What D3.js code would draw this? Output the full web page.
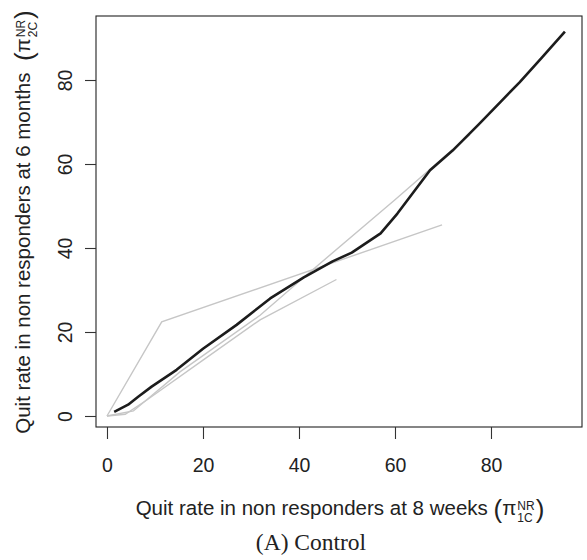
<!DOCTYPE html>
<html>
<head>
<meta charset="utf-8">
<script src="https://cdn.jsdelivr.net/npm/d3@7"></script>
<style>
  body { margin: 0; background: #fff; }
  text { font-family: "Liberation Sans", Arial, sans-serif; fill: #222; }
</style>
</head>
<body>
<div id="chart"></div>
<script>
// tick labels
var xTicks = [0, 20, 40, 60, 80];
var yTicks = [0, 20, 40, 60, 80];

// black curve (overall)
var blackX = [1.5, 4.4, 6.5, 9.3, 14.5, 20, 27, 34, 41, 47, 51, 57, 60.5, 67.3, 72, 77.5, 82, 86, 90.5, 95.4];
var blackY = [1.0, 2.7, 4.6, 7.0, 11.0, 16.0, 21.7, 28.0, 33.0, 36.8, 38.9, 43.5, 48.2, 58.5, 63.2, 69.5, 74.8, 79.5, 85.2, 91.5];

// grey curves
var gray1X = [0, 11.4, 69.8];
var gray1Y = [0, 22.4, 45.5];
var gray2X = [0, 3.8, 8.3, 20, 31.9, 47.8];
var gray2Y = [0, 0.4, 3.8, 13.3, 22.9, 32.5];
var gray3X = [0, 5.5, 15.2, 31.9, 42, 60, 75.6];
var gray3Y = [0, 1.2, 10.5, 24, 34, 51.5, 67];

var width = 587, height = 560;

var svg = d3.select("#chart").append("svg")
    .attr("width", width)
    .attr("height", height);

// set the ranges (R style 4% padding around data)
var x = d3.scaleLinear().domain([-2.29, 98.96]).range([96, 582]);
var y = d3.scaleLinear().domain([-2.62, 95.24]).range([427, 16]);

var line = d3.line()
    .x(function(d) { return x(d[0]); })
    .y(function(d) { return y(d[1]); });

var grays = [[gray1X, gray1Y], [gray2X, gray2Y], [gray3X, gray3Y]];

svg.append("g")
    .selectAll("path")
    .data(grays)
    .enter().append("path")
    .attr("d", function(d) { return line(d3.zip(d[0], d[1])); })
    .attr("fill", "none")
    .attr("stroke", "#c6c6c6")
    .attr("stroke-width", 1.4);

svg.append("path")
    .attr("d", line(d3.zip(blackX, blackY)))
    .attr("fill", "none")
    .attr("stroke", "#1c1c1c")
    .attr("stroke-width", 2.6)
    .attr("stroke-linejoin", "round");

// box
svg.append("rect")
    .attr("x", x.range()[0])
    .attr("y", y.range()[1])
    .attr("width", x.range()[1] - x.range()[0])
    .attr("height", y.range()[0] - y.range()[1])
    .attr("fill", "none")
    .attr("stroke", "#222")
    .attr("stroke-width", 1.1);

// axes
var xAxis = d3.axisBottom(x).tickValues(xTicks).tickSize(12);
var yAxis = d3.axisLeft(y).tickValues(yTicks).tickSize(11);

var gx = svg.append("g")
    .attr("transform", "translate(0," + y.range()[0] + ")")
    .call(xAxis);
gx.select(".domain").remove();
gx.selectAll(".tick line").attr("stroke", "#333").attr("stroke-width", 1.1);
gx.selectAll(".tick text")
    .attr("y", 45).attr("dy", null)
    .style("font-size", "19.5px")
    .style("font-family", "Liberation Sans, Arial, sans-serif")
    .attr("fill", "#222");

var gy = svg.append("g")
    .attr("transform", "translate(" + x.range()[0] + ",0)")
    .call(yAxis);
gy.select(".domain").remove();
gy.selectAll(".tick line").attr("stroke", "#333").attr("stroke-width", 1.1);
gy.selectAll(".tick text")
    .attr("x", 0).attr("y", -24).attr("dy", null)
    .attr("transform", "rotate(-90)")
    .attr("text-anchor", "middle")
    .style("font-size", "19.5px")
    .style("font-family", "Liberation Sans, Arial, sans-serif")
    .attr("fill", "#222");

// axis titles with pi^NR_sub, parens grown round the stack
function mathLabel(tx, ty, rot, pre, gap, sub) {
    var g = svg.append("g")
        .attr("transform", "translate(" + tx + "," + ty + ") rotate(" + rot + ")");
    var inner = g.append("g");
    var t0 = inner.append("text")
        .attr("x", 0).attr("y", 0)
        .style("font-size", "20.5px")
        .text(pre);
    var w0 = t0.node().getComputedTextLength() + gap;
    var p1 = inner.append("text")
        .attr("x", w0).attr("y", 3)
        .style("font-size", "26px")
        .text("(");
    var wp = p1.node().getComputedTextLength();
    var pi = inner.append("text")
        .attr("x", w0 + wp).attr("y", 0)
        .style("font-size", "20.5px")
        .text("\u03C0");
    var w1 = w0 + wp + pi.node().getComputedTextLength();
    var sp = inner.append("text")
        .attr("x", w1 + 1).attr("y", -5)
        .style("font-size", "12px")
        .text("NR");
    var sb = inner.append("text")
        .attr("x", w1 + 1).attr("y", 7)
        .style("font-size", "12px")
        .text(sub);
    var w2 = Math.max(sp.node().getComputedTextLength(), sb.node().getComputedTextLength());
    var t2 = inner.append("text")
        .attr("x", w1 + w2 + 2).attr("y", 3)
        .style("font-size", "26px")
        .text(")");
    var total = w1 + w2 + 2 + t2.node().getComputedTextLength();
    inner.attr("transform", "translate(" + (-total / 2) + ",0)");
}

mathLabel(340, 515, 0, "Quit rate in non responders at 8 weeks", 5.7, "1C");
mathLabel(30, 222, -90, "Quit rate in non responders at 6 months", 11.4, "2C");

svg.append("text")
    .attr("x", 311)
    .attr("y", 550)
    .attr("text-anchor", "middle")
    .style("font-family", "Liberation Serif, 'Times New Roman', serif")
    .style("font-size", "23.5px")
    .text("(A) Control");
</script>
</body>
</html>
